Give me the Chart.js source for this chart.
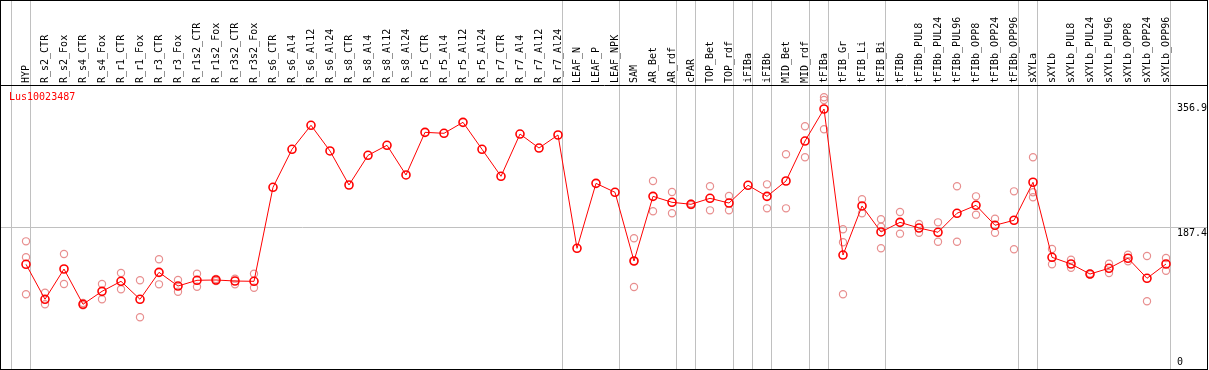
<!DOCTYPE html>
<html>
<head>
<meta charset="utf-8">
<script src="https://cdn.jsdelivr.net/npm/chart.js@4/dist/chart.umd.min.js"></script>
<style>
  html, body { margin: 0; padding: 0; background: #fff; }
  #frame { position: absolute; left: 0; top: 0; width: 1206px; height: 368px; border: 1px solid #000; }
  canvas { display: block; }
</style>
</head>
<body>
<div id="frame"><canvas id="c" width="1206" height="368"></canvas></div>
<script>
const geneName = 'Lus10023487';

const categories = [
  'HYP','R_s2_CTR','R_s2_Fox','R_s4_CTR','R_s4_Fox','R_r1_CTR','R_r1_Fox','R_r3_CTR','R_r3_Fox',
  'R_r1s2_CTR','R_r1s2_Fox','R_r3s2_CTR','R_r3s2_Fox','R_s6_CTR','R_s6_Al4','R_s6_Al12','R_s6_Al24',
  'R_s8_CTR','R_s8_Al4','R_s8_Al12','R_s8_Al24','R_r5_CTR','R_r5_Al4','R_r5_Al12','R_r5_Al24',
  'R_r7_CTR','R_r7_Al4','R_r7_Al12','R_r7_Al24','LEAF_N','LEAF_P','LEAF_NPK','SAM','AR_Bet','AR_rdf',
  'cPAR','TOP_Bet','TOP_rdf','iFIBa','iFIBb','MID_Bet','MID_rdf','tFIBa','tFIB_Gr','tFIB_Li','tFIB_Bi',
  'tFIBb','tFIBb_PUL8','tFIBb_PUL24','tFIBb_PUL96','tFIBb_OPP8','tFIBb_OPP24','tFIBb_OPP96',
  'sXYLa','sXYLb','sXYLb_PUL8','sXYLb_PUL24','sXYLb_PUL96','sXYLb_OPP8','sXYLb_OPP24','sXYLb_OPP96'
];

const meanValues = [
  138.1, 90.6, 131.7, 83.8, 101.4, 115.0, 90.6, 127.2, 108.6,
  116.4, 116.8, 115.4, 115.0, 242.7, 294.3, 326.9, 292.0,
  245.8, 286.1, 299.7, 259.4, 317.3, 316.0, 330.9, 294.3,
  257.6, 315.0, 296.0, 313.7, 159.8, 248.0, 235.9, 142.6, 230.4, 222.3,
  219.6, 227.7, 221.3, 245.4, 230.4, 251.2, 305.5, 349.0, 150.7, 217.3, 182.0,
  195.1, 187.4, 181.6, 207.4, 218.2, 191.1, 197.9,
  249.5, 147.6, 138.5, 124.9, 132.7, 146.3, 119.1, 138.5
];

const replicateA = [
  169.3, 99.5, 152.1, 85.5, 111.4, 126.3, 116.4, 144.9, 116.8,
  125.4, 118.1, 118.6, 125.4, null, null, null, null,
  null, null, null, null, null, null, null, null,
  null, null, null, null, null, null, null, 173.4, 251.2, 236.3,
  220.5, 244.0, 230.9, null, 246.7, 287.5, 325.5, 364.9, 185.6, 226.4, 199.2,
  209.1, 192.8, 195.1, 244.0, 230.4, 200.0, 237.2,
  283.4, 158.9, 144.4, 125.5, 138.9, 151.1, 149.4, 146.7
];

const replicateB = [
  97.4, 83.8, 111.4, 82.5, 90.6, 104.1, 66.1, 110.9, 100.9,
  107.7, 115.4, 110.9, 106.3, null, null, null, null,
  null, null, null, null, null, null, null, null,
  null, null, null, null, null, null, null, 107.3, 210.1, 207.4,
  218.7, 211.4, 211.4, null, 214.1, 214.1, 283.4, 321.4, 97.4, 207.4, 159.8,
  179.7, 181.0, 168.8, 168.8, 205.5, 181.0, 158.5,
  229.1, 138.1, 133.5, 124.3, 126.3, 142.2, 87.9, 129.4
];

const replicateC = [
  147.6, null, null, null, null, null, null, null, null,
  null, null, null, null, null, null, null, null,
  null, null, null, null, null, null, null, null,
  null, null, null, null, null, null, null, 142.6, null, null,
  null, null, null, null, null, null, null, 361.2, 168.0, null, 189.2,
  null, null, null, null, null, null, null,
  235.9, null, null, null, null, null, null, null
];

// group separator lines are drawn just after these category indices (-1 = before the first)
const separatorAfter = [-1, 0, 28, 31, 34, 35, 37, 38, 39, 41, 42, 45, 52, 53, 60];

const yTickValues = [0, 187.4, 356.9];

const FONT = { family: "'DejaVu Sans Mono', 'Liberation Mono', monospace", size: 10 };
const YFONT = { family: FONT.family, size: 10, lineHeight: 1.8 };
const SEP = 4.5 / 19;
const GRID = '#c0c0c0';
const NONE = 'rgba(0,0,0,0)';

const tickIndex = [];
for (let i = -1; i < categories.length; i++) tickIndex.push(i);

const toPoints = arr => arr.map((v, i) => (v === null ? null : { x: i, y: v })).filter(p => p);

const noPadding = s => { s.paddingLeft = 0; s.paddingRight = 0; s.paddingTop = 0; s.paddingBottom = 0; };

const replicateStyle = {
  type: 'scatter',
  showLine: false,
  pointRadius: 3.6,
  pointBorderWidth: 1.2,
  pointBorderColor: '#e88f8f',
  pointBackgroundColor: NONE,
  borderColor: '#e88f8f',
  backgroundColor: NONE
};

const titlePlugin = {
  id: 'geneTitle',
  afterDraw(chart) {
    const { ctx, chartArea } = chart;
    ctx.save();
    ctx.fillStyle = '#ff0000';
    ctx.font = `${FONT.size}px ${FONT.family}`;
    ctx.textBaseline = 'top';
    ctx.textAlign = 'left';
    ctx.fillText(geneName, chartArea.left + 8, chartArea.top + 7);
    ctx.restore();
  }
};

new Chart(document.getElementById('c'), {
  type: 'line',
  data: {
    datasets: [
      {
        label: geneName,
        data: toPoints(meanValues),
        borderColor: '#ff0000',
        borderWidth: 1,
        tension: 0,
        pointRadius: 4,
        pointBorderWidth: 1.6,
        pointBorderColor: '#ff0000',
        pointBackgroundColor: NONE,
        backgroundColor: NONE,
        fill: false
      },
      Object.assign({ label: 'rep A', data: toPoints(replicateA) }, replicateStyle),
      Object.assign({ label: 'rep B', data: toPoints(replicateB) }, replicateStyle),
      Object.assign({ label: 'rep C', data: toPoints(replicateC) }, replicateStyle)
    ]
  },
  options: {
    responsive: false,
    animation: false,
    devicePixelRatio: 1,
    layout: { padding: 0, autoPadding: false },
    plugins: { legend: { display: false }, tooltip: { enabled: false }, title: { display: false } },
    scales: {
      x: {
        type: 'linear',
        position: 'top',
        min: -25 / 19,
        max: 1181 / 19,
        afterBuildTicks: s => { s.ticks = tickIndex.map(i => ({ value: i + SEP })); },
        afterFit: s => { s.height = 84; noPadding(s); },
        grid: {
          drawOnChartArea: true,
          drawTicks: true,
          tickLength: 84,
          lineWidth: 1,
          color: ctx => (ctx.tick && separatorAfter.includes(Math.round(ctx.tick.value - SEP))) ? GRID : NONE
        },
        border: { display: true, color: '#000000', width: 1 },
        ticks: {
          autoSkip: false,
          minRotation: 90,
          maxRotation: 90,
          padding: -82,
          labelOffset: 8,
          color: '#000000',
          font: FONT,
          callback: v => {
            const i = Math.round(v - SEP);
            return i >= 0 && i < categories.length ? categories[i] : '';
          }
        }
      },
      y: {
        type: 'linear',
        position: 'right',
        min: -3 / 0.7364,
        max: 281 / 0.7364,
        afterBuildTicks: s => { s.ticks = yTickValues.map(v => ({ value: v })); },
        afterFit: s => { s.width = 0; noPadding(s); },
        grid: {
          drawTicks: false,
          lineWidth: 1,
          color: ctx => (ctx.tick && ctx.tick.value === yTickValues[1]) ? GRID : NONE
        },
        border: { display: false },
        ticks: {
          autoSkip: false,
          mirror: true,
          align: 'start',
          crossAlign: 'far',
          padding: 0,
          labelOffset: 0,
          color: '#000000',
          font: YFONT,
          showLabelBackdrop: ctx => ctx.index !== 0,
          backdropColor: '#ffffff',
          backdropPadding: 0,
          callback: v => (v === yTickValues[0] ? [String(v), ''] : String(v))
        }
      }
    }
  },
  plugins: [titlePlugin]
});
</script>
</body>
</html>
